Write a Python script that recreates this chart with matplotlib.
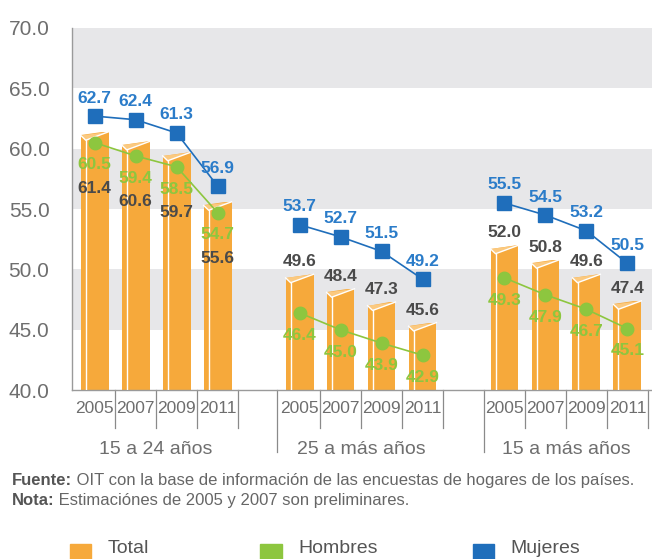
import matplotlib
matplotlib.use("Agg")
import matplotlib.pyplot as plt
import matplotlib.transforms as mtransforms
from matplotlib import font_manager
from matplotlib.patches import Rectangle
import numpy as np

years = ["2005", "2007", "2009", "2011"]
groups = ["15 a 24 años", "25 a más años", "15 a más años"]
total = [[61.4, 60.6, 59.7, 55.6], [49.6, 48.4, 47.3, 45.6], [52.0, 50.8, 49.6, 47.4]]
hombres = [[60.5, 59.4, 58.5, 54.7], [46.4, 45.0, 43.9, 42.9], [49.3, 47.9, 46.7, 45.1]]
mujeres = [[62.7, 62.4, 61.3, 56.9], [53.7, 52.7, 51.5, 49.2], [55.5, 54.5, 53.2, 50.5]]
y_ticks = [40, 45, 50, 55, 60, 65, 70]

ORANGE = "#F6A93B"
ORANGE_TOP = "#FBC97F"
GREEN = "#8DC63F"
BLUE = "#1F6EBB"
BLUE_TXT = "#2B7CC9"
DARK = "#4A4A4A"
GREY = "#6E6E6E"
BAND = "#E7E7E9"

available = {f.name for f in font_manager.fontManager.ttflist}
if "Liberation Sans Narrow" in available:
    FONT = "Liberation Sans Narrow"
elif "Liberation Sans" in available:
    FONT = "Liberation Sans"
else:
    FONT = "DejaVu Sans"
plt.rcParams["font.family"] = [FONT, "DejaVu Sans"]

fig = plt.figure(figsize=(6.52, 5.59), dpi=100)
ax = fig.add_axes([0.110, 0.302, 0.890, 0.648])
ax.set_xlim(-0.56, 13.6)
ax.set_ylim(40, 70)

# alternating bands
for lo in (45, 55, 65):
    ax.axhspan(lo, lo + 5, color=BAND, zorder=0, lw=0)

width = 0.68
d1, d2 = 0.3, 0.7
for g in range(3):
    xs = np.arange(4) + 5 * g
    ax.bar(xs, np.array(total[g]) - 40, bottom=40, width=width, color=ORANGE, zorder=2, lw=0)
    for x, v in zip(xs, total[g]):
        x0, x1 = x - width / 2, x + width / 2
        xl = x0 + 0.18 * width
        # cut the top-left corner and draw the bevel
        ax.fill([x0, x0, x1], [v - d1, v + 0.05, v + 0.05],
                color="white" if (v // 5) % 2 == 0 else BAND, zorder=3, lw=0)
        ax.fill([x0, xl, x1], [v - d1, v - d2, v], color=ORANGE_TOP, zorder=3, lw=0)
        ax.plot([xl, xl], [40, v - d2], color="white", lw=1.0, zorder=4)
        ax.plot([x0, xl, x1], [v - d1, v - d2, v], color="white", lw=1.0, zorder=4)
    ax.plot(xs, hombres[g], color=GREEN, lw=1.2, marker="o", ms=9, zorder=5)
    ax.plot(xs, mujeres[g], color=BLUE, lw=1.2, marker="s", ms=10, zorder=5)

    for i, x in enumerate(xs):
        ax.annotate(f"{mujeres[g][i]:.1f}", (x, mujeres[g][i]), xytext=(0, 13), textcoords="offset points",
                    ha="center", va="center", color=BLUE_TXT, fontsize=12.5, fontweight="bold", zorder=6)
        ax.annotate(f"{hombres[g][i]:.1f}", (x, hombres[g][i]), xytext=(0, -16), textcoords="offset points",
                    ha="center", va="center", color=GREEN, fontsize=12.5, fontweight="bold", zorder=6)
        if g == 0:
            ax.annotate(f"{total[g][i]:.1f}", (x, hombres[g][i]), xytext=(0, -33), textcoords="offset points",
                        ha="center", va="center", color=DARK, fontsize=12.5, fontweight="bold", zorder=6)
        else:
            ax.annotate(f"{total[g][i]:.1f}", (x, total[g][i]), xytext=(0, 9), textcoords="offset points",
                        ha="center", va="center", color=DARK, fontsize=12.5, fontweight="bold", zorder=6)

# axes styling
for side in ("top", "right"):
    ax.spines[side].set_visible(False)
for side in ("left", "bottom"):
    ax.spines[side].set_color("#9A9A9A")
    ax.spines[side].set_linewidth(1.0)
ax.set_yticks(y_ticks)
ax.set_yticklabels([f"{t:.1f}" for t in y_ticks], fontsize=15, color=GREY)
ax.tick_params(axis="y", length=0, pad=16)

xpos = [5 * g + i for g in range(3) for i in range(4)]
ax.set_xticks(xpos)
ax.set_xticklabels(years * 3, fontsize=12.5, color=GREY)
ax.tick_params(axis="x", length=0, pad=8)

trans = mtransforms.blended_transform_factory(ax.transData, ax.transAxes)
for g in range(3):
    for s in np.arange(0.5, 4.0, 1.0) + 5 * g:
        ax.plot([s, s], [0, -0.105], transform=trans, color="#8A8A8A", lw=0.9, clip_on=False)
    ax.text(5 * g + 1.5, -0.163, groups[g], transform=trans, ha="center", va="center",
            fontsize=14, color=GREY)
for s in (4.45, 9.5):
    ax.plot([s, s], [0, -0.17], transform=trans, color="#8A8A8A", lw=0.9, clip_on=False)

# footnotes
renderer = fig.canvas.get_renderer()
for y, head, rest in ((0.141, "Fuente:", " OIT con la base de información de las encuestas de hogares de los países."),
                      (0.105, "Nota:", " Estimaciónes de 2005 y 2007 son preliminares.")):
    t = fig.text(0.018, y, head, fontsize=12, fontweight="bold", color="#555555", va="center")
    bb = t.get_window_extent(renderer)
    fig.text(bb.x1 / fig.bbox.width, y, rest, fontsize=12, color="#666666", va="center")

# legend
for xsq, label, color in ((0.107, "Total", ORANGE), (0.399, "Hombres", GREEN), (0.725, "Mujeres", BLUE)):
    fig.patches.append(Rectangle((xsq, 0.0), 0.033, 0.026, transform=fig.transFigure, color=color))
    fig.text(xsq + 0.058, 0.019, label, fontsize=14, color="#555555", va="center")

fig.savefig("out.png", dpi=100)
